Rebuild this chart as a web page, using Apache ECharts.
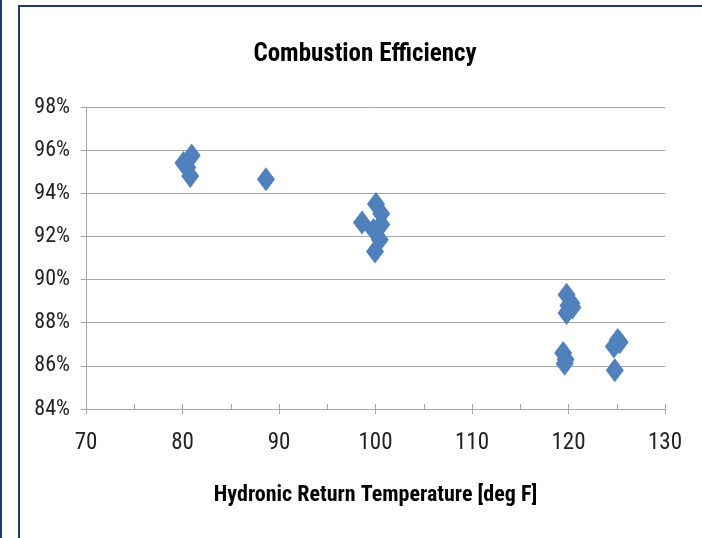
<!DOCTYPE html>
<html>
<head>
<meta charset="utf-8">
<script src="https://cdn.jsdelivr.net/npm/echarts@6/dist/echarts.min.js"></script>
<style>
html,body{margin:0;padding:0;background:#fff;}
#chart{width:702px;height:538px;}
</style>
</head>
<body>
<div id="chart"></div>
<script>
var titleText = 'Combustion Efficiency';
var xAxisTitle = 'Hydronic Return Temperature [deg F]';
var xTicks = [70, 80, 90, 100, 110, 120, 130];
var yTicks = [84, 86, 88, 90, 92, 94, 96, 98];
var temperature = [80.1, 80.5, 80.95, 80.8, 88.65,
  100.05, 98.6, 100.6, 100.6, 99.8, 100.45, 99.95,
  119.8, 120.3, 120.4, 119.8, 120.0,
  119.45, 119.7, 119.6,
  125.1, 124.7, 125.3, 124.8];
var efficiency = [95.4, 95.2, 95.75, 94.8, 94.65,
  93.5, 92.65, 93.05, 92.55, 92.3, 91.85, 91.3,
  89.3, 88.9, 88.7, 88.45, 88.8,
  86.6, 86.3, 86.1,
  87.2, 86.9, 87.1, 85.8];

var font = "'Liberation Sans Narrow', 'Roboto Condensed', 'Liberation Sans', sans-serif";
var points = temperature.map(function (t, i) { return [t, efficiency[i]]; });
var chart = echarts.init(document.getElementById('chart'));
var gridColor = '#a6a6a6';
chart.setOption({
  animation: false,
  backgroundColor: '#ffffff',
  title: {
    text: titleText,
    left: 360, textAlign: 'center', top: 37,
    textStyle: {fontFamily: font, fontSize: 25, fontWeight: 'bold', color: '#000'}
  },
  grid: {left: 86, right: 37, top: 107, bottom: 129},
  xAxis: [{
    type: 'value', min: xTicks[0], max: xTicks[xTicks.length - 1], interval: 10,
    name: xAxisTitle, nameLocation: 'middle', nameGap: 75,
    nameTextStyle: {fontFamily: font, fontSize: 22, fontWeight: 'bold', color: '#000'},
    axisLine: {show: true, lineStyle: {color: gridColor, width: 1}},
    axisTick: {show: true, inside: false, length: 5, lineStyle: {color: gridColor}},
    axisLabel: {fontFamily: font, fontSize: 23, color: '#222', margin: 23},
    splitLine: {show: false}
  }, {
    type: 'value', min: xTicks[0], max: xTicks[xTicks.length - 1], interval: 5,
    position: 'bottom', gridIndex: 0,
    axisLine: {show: false},
    axisTick: {show: true, inside: true, length: 5, lineStyle: {color: gridColor}},
    axisLabel: {show: false},
    splitLine: {show: false}
  }],
  yAxis: {
    type: 'value', min: yTicks[0], max: yTicks[yTicks.length - 1], interval: 2,
    axisLine: {show: true, lineStyle: {color: gridColor, width: 1}},
    axisTick: {show: true, inside: false, length: 5, lineStyle: {color: gridColor}},
    axisLabel: {fontFamily: font, fontSize: 22, color: '#222', margin: 16, formatter: '{value}%'},
    splitLine: {show: true, lineStyle: {color: gridColor, width: 1}}
  },
  graphic: [
    {type: 'rect', shape: {x: 0, y: 0, width: 2, height: 538}, style: {fill: '#1f3a70'}},
    {type: 'rect', shape: {x: 18, y: 5, width: 2, height: 533}, style: {fill: '#1f3a70'}},
    {type: 'rect', shape: {x: 18, y: 5, width: 684, height: 2}, style: {fill: '#1f3a70'}}
  ],
  series: [{
    type: 'scatter', xAxisIndex: 0,
    symbol: 'diamond', symbolSize: [18, 24],
    itemStyle: {color: '#4f81bd', opacity: 1},
    data: points
  }]
});
</script>
</body>
</html>
